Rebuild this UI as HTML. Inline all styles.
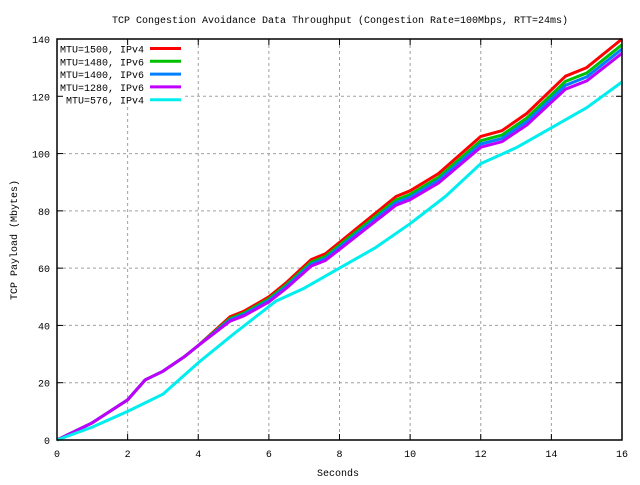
<!DOCTYPE html>
<html><head><meta charset="utf-8"><style>
html,body{margin:0;padding:0;background:#fff}
svg text{font-family:"Liberation Mono","DejaVu Sans Mono",monospace;font-size:10px;fill:#000}
</style></head><body>
<svg id="s" width="640" height="480" xmlns="http://www.w3.org/2000/svg">
<rect width="640" height="480" fill="#fff"/>
<g id="grid" stroke="#a0a0a0" stroke-width="1" stroke-dasharray="3,3"></g>
<g id="ticks" stroke="#000" stroke-width="1"></g>
<g id="lbl"></g>
<g id="series" fill="none" stroke-width="3" stroke-linejoin="round"></g>
<rect x="57" y="39" width="565" height="401" fill="none" stroke="#000" stroke-width="1.5"/>
<text x="340" y="23" text-anchor="middle">TCP Congestion Avoidance Data Throughput (Congestion Rate=100Mbps, RTT=24ms)</text>
<text x="338" y="476" text-anchor="middle">Seconds</text>
<text transform="translate(17,240) rotate(-90)" text-anchor="middle">TCP Payload (Mbytes)</text>
<g id="leg"></g>
</svg>
<script>
var NS="http://www.w3.org/2000/svg";
function X(x){return 57+x*35.3125}
function Y(y){return 440-y*2.8643}
function el(p,t,a,txt){var e=document.createElementNS(NS,t);for(var k in a)e.setAttribute(k,a[k]);if(txt!=null)e.textContent=txt;document.getElementById(p).appendChild(e);return e}
for(var i=0;i<=8;i++){var x=X(i*2);
 if(i>0&&i<8)el("grid","line",{x1:x,y1:i==1?107:39,x2:x,y2:440});
 el("ticks","line",{x1:x,y1:440,x2:x,y2:434});el("ticks","line",{x1:x,y1:39,x2:x,y2:45});
 el("lbl","text",{x:x,y:457,"text-anchor":"middle"},i*2);}
for(var j=0;j<=7;j++){var y=Y(j*20);
 if(j>0&&j<7)el("grid","line",{x1:j==6?185:57,y1:y,x2:622,y2:y});
 el("ticks","line",{x1:57,y1:y,x2:63,y2:y});el("ticks","line",{x1:622,y1:y,x2:616,y2:y});
 el("lbl","text",{x:50,y:y+4,"text-anchor":"end"},j*20);}
function pts(a){return a.map(function(p){return X(p[0]).toFixed(1)+","+Y(p[1]).toFixed(1)}).join(" ")}
var base=[[0,0],[1,6],[2,14],[2.5,21],[3,24],[3.6,29],[4,33],[4.9,43],[5.3,45],[6,50],[6.5,55],[7.2,63],[7.6,65],[8,69],[8.6,75],[9.6,85],[10,87],[10.8,93],[12,106],[12.6,108],[13.3,114],[14.4,127],[15,130],[16,140]];
function mod(d){return base.map(function(p){var dy=0;if(p[0]>4)dy=d*(p[1]/140);return [p[0],p[1]-dy]})}
var S=[
 ["#ff0000",mod(0)],
 ["#00c000",mod(2)],
 ["#0080ff",mod(3.5)],
 ["#c000ff",mod(5)],
 ["#00eeee",[[0,0],[1,4.5],[2,10],[3,16],[4,27],[5,37],[6.2,48.5],[7,53],[8,60],[9,67],[10,75.5],[11,85],[12,96.5],[13,102],[14,109],[15,116],[16,125]]]
];
var names=["MTU=1500, IPv4","MTU=1480, IPv6","MTU=1400, IPv6","MTU=1280, IPv6","MTU=576, IPv4"];
S.forEach(function(s,i){el("series","polyline",{points:pts(s[1]),stroke:s[0]});
 var ly=48.5+i*12.8;
 el("leg","text",{x:144,y:ly+4,"text-anchor":"end"},names[i]);
 el("leg","line",{x1:150,y1:ly,x2:181,y2:ly,stroke:s[0],"stroke-width":3});});
</script>
</body></html>
